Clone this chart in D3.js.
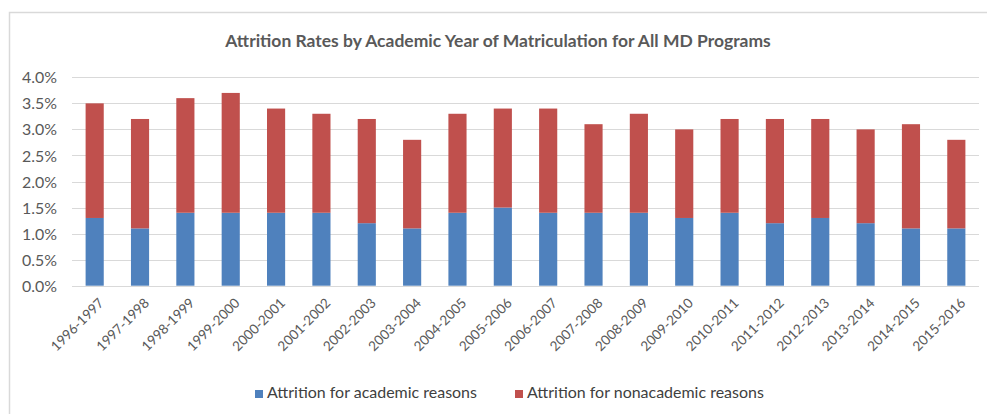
<!DOCTYPE html>
<html>
<head>
<meta charset="utf-8">
<script src="https://cdn.jsdelivr.net/npm/d3@7"></script>
<style>
  html, body { margin: 0; padding: 0; background: #fff; }
  svg { display: block; }
  text { font-family: Lato, "Open Sans", "Liberation Sans", sans-serif; }
</style>
</head>
<body>
<svg id="chart" width="987" height="414"></svg>
<script>
const title = "Attrition Rates by Academic Year of Matriculation for All MD Programs";
const years = ["1996-1997","1997-1998","1998-1999","1999-2000","2000-2001","2001-2002","2002-2003","2003-2004","2004-2005","2005-2006","2006-2007","2007-2008","2008-2009","2009-2010","2010-2011","2011-2012","2012-2013","2013-2014","2014-2015","2015-2016"];
const academic    = [1.3,1.1,1.4,1.4,1.4,1.4,1.2,1.1,1.4,1.5,1.4,1.4,1.4,1.3,1.4,1.2,1.3,1.2,1.1,1.1];
const nonacademic = [2.2,2.1,2.2,2.3,2.0,1.9,2.0,1.7,1.9,1.9,2.0,1.7,1.9,1.7,1.8,2.0,1.9,1.8,2.0,1.7];
const seriesNames = ["Attrition for academic reasons","Attrition for nonacademic reasons"];
const yTicks = [0,0.5,1.0,1.5,2.0,2.5,3.0,3.5,4.0];

const colors = ["#4F81BD", "#C0504D"];
const svg = d3.select("#chart");
const FONT = "Lato, 'Open Sans', sans-serif";

svg.append("rect").attr("width", 987).attr("height", 414).attr("fill", "#fff");
// chart border (top and left visible)
svg.append("path").attr("d", "M9.5,414 L9.5,12.5 L987,12.5")
  .attr("fill", "none").attr("stroke", "#d9d9d9").attr("stroke-width", 1.5);

const x = d3.scaleBand().domain(years).range([72, 979]).paddingInner(0.6).paddingOuter(0.3);
const y = d3.scaleLinear().domain([0, 4]).range([285.7, 77.3]);

// gridlines
svg.append("g").selectAll("line").data(yTicks).join("line")
  .attr("x1", 72).attr("x2", 979)
  .attr("y1", d => Math.round(y(d)) + 0.5).attr("y2", d => Math.round(y(d)) + 0.5)
  .attr("stroke", "#d9d9d9").attr("stroke-width", 1);

// stacked data
const rows = years.map((yr, i) => ({year: yr, a: academic[i], n: nonacademic[i]}));
const stack = d3.stack().keys(["a", "n"])(rows);

svg.append("g").selectAll("g").data(stack).join("g")
  .attr("fill", (d, i) => colors[i])
  .selectAll("rect").data(d => d).join("rect")
  .attr("x", d => x(d.data.year))
  .attr("width", x.bandwidth())
  .attr("y", d => y(d[1]))
  .attr("height", d => y(d[0]) - y(d[1]));

// y axis labels
const yAxis = d3.axisLeft(y).tickValues(yTicks).tickFormat(d => d.toFixed(1) + "%").tickSize(0).tickPadding(0);
const yg = svg.append("g").attr("transform", "translate(57,0)").call(yAxis);
yg.select(".domain").remove();
yg.selectAll("text").attr("fill", "#595959").attr("font-size", 15)
  .style("font-family", FONT).attr("dy", "0.35em");
const sample = yg.selectAll("text").filter(d => d === 4).node();
yg.selectAll("text").attr("font-size", 15 * 35 / sample.getComputedTextLength());

// x axis labels
const xAxis = d3.axisBottom(x).tickSize(0).tickPadding(0);
const xg = svg.append("g").call(xAxis);
xg.select(".domain").remove();
xg.selectAll("text")
  .attr("fill", "#595959").attr("font-size", 15)
  .style("font-family", FONT)
  .attr("text-anchor", "end")
  .attr("y", 0).attr("x", 0).attr("dy", "0.72em")
  .attr("transform", "translate(3,297) rotate(-45)");
const xs = xg.selectAll("text").node();
xg.selectAll("text").attr("font-size", 15 * 68 / xs.getComputedTextLength());

// title
const t = svg.append("text").attr("x", 498).attr("y", 47).attr("text-anchor", "middle")
  .attr("font-size", 16).attr("font-weight", 700).attr("fill", "#595959")
  .text(title);
t.attr("font-size", 16 * 546 / t.node().getComputedTextLength());

// legend
const legX = [255, 515];
const lg = svg.append("g").selectAll("g").data(seriesNames).join("g")
  .attr("transform", (d, i) => `translate(${legX[i]},0)`);
lg.append("rect").attr("x", 0).attr("y", 390).attr("width", 8).attr("height", 8)
  .attr("fill", (d, i) => colors[i]);
const lt = lg.append("text").attr("x", 12).attr("y", 398).attr("font-size", 15).attr("fill", "#404040")
  .text(d => d);
const lfs = 15 * 210 / lt.nodes()[0].getComputedTextLength();
lt.attr("font-size", lfs);
</script>
</body>
</html>
